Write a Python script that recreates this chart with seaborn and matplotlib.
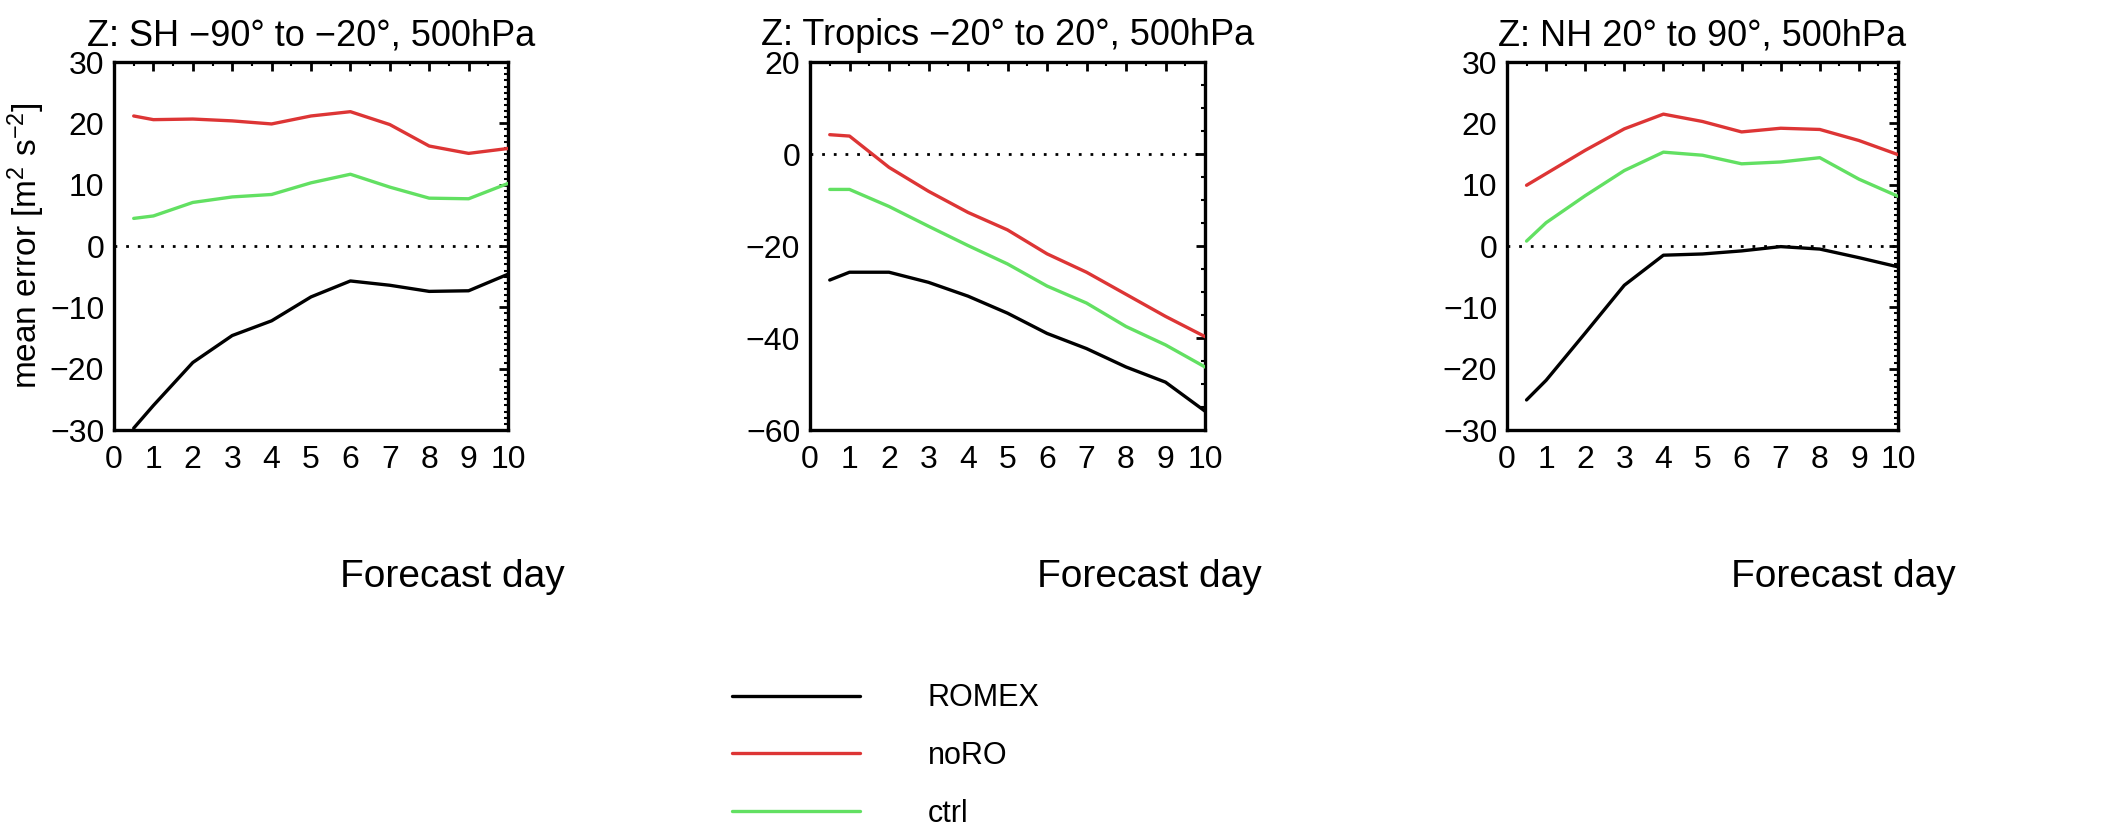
import numpy as np
import pandas as pd
import matplotlib
matplotlib.use("Agg")
import matplotlib.pyplot as plt
import seaborn as sns
from matplotlib.ticker import MultipleLocator
from matplotlib.lines import Line2D

# ---------------- data ----------------
days = [0.5, 1, 2, 3, 4, 5, 6, 7, 8, 9, 10]
experiments = ["ROMEX", "noRO", "ctrl"]
colors = ["#000000", "#dd3535", "#62e062"]

sh_romex = [-29.7, -26.0, -19.0, -14.6, -12.2, -8.3, -5.7, -6.4, -7.4, -7.3, -4.6]
sh_noro = [21.2, 20.6, 20.7, 20.4, 19.9, 21.2, 21.9, 19.8, 16.3, 15.1, 15.9]
sh_ctrl = [4.5, 4.9, 7.1, 8.0, 8.4, 10.3, 11.7, 9.6, 7.8, 7.7, 10.2]

tr_romex = [-27.4, -25.7, -25.7, -27.9, -30.9, -34.6, -39.0, -42.3, -46.3, -49.6, -55.9]
tr_noro = [4.2, 3.9, -2.9, -8.1, -12.7, -16.5, -21.7, -25.7, -30.5, -35.3, -39.7]
tr_ctrl = [-7.7, -7.7, -11.4, -15.7, -19.9, -23.9, -28.7, -32.4, -37.5, -41.5, -46.3]

nh_romex = [-25.1, -21.9, -14.2, -6.4, -1.5, -1.3, -0.8, -0.1, -0.5, -1.9, -3.4]
nh_noro = [9.9, 11.8, 15.6, 19.1, 21.5, 20.3, 18.6, 19.2, 19.0, 17.2, 14.9]
nh_ctrl = [0.8, 3.8, 8.2, 12.3, 15.3, 14.8, 13.4, 13.7, 14.4, 10.9, 8.1]

titles = ["Z: SH \u221290\u00b0 to \u221220\u00b0, 500hPa",
          "Z: Tropics \u221220\u00b0 to 20\u00b0, 500hPa",
          "Z: NH 20\u00b0 to 90\u00b0, 500hPa"]
ylims = [(-30, 30), (-60, 20), (-30, 30)]
ymajor = [10, 20, 10]
yminor = [1, 5, 1]
xlabel = "Forecast day"
ylabel = r"mean error [m$^{\mathrm{2}}$ s$^{\mathrm{-2}}$]"

panels = [(sh_romex, sh_noro, sh_ctrl),
          (tr_romex, tr_noro, tr_ctrl),
          (nh_romex, nh_noro, nh_ctrl)]

# ---------------- style ----------------
sns.set_style("white")
plt.rcParams["font.family"] = ["Liberation Sans", "DejaVu Sans"]
plt.rcParams["mathtext.fontset"] = "custom"
plt.rcParams["mathtext.rm"] = "Liberation Sans"
plt.rcParams["mathtext.it"] = "Liberation Sans:italic"
plt.rcParams["axes.unicode_minus"] = True
plt.rcParams["text.color"] = "black"
plt.rcParams["axes.labelcolor"] = "black"
plt.rcParams["xtick.color"] = "black"
plt.rcParams["ytick.color"] = "black"

fig = plt.figure(figsize=(21.26, 8.31), dpi=100)

axes_rects = [
    [114 / 2126, 401 / 831, 394 / 2126, 368 / 831],
    [810 / 2126, 401 / 831, 395 / 2126, 368 / 831],
    [1507 / 2126, 401 / 831, 391 / 2126, 368 / 831],
]

palette = dict(zip(experiments, colors))

for i, (rect, series) in enumerate(zip(axes_rects, panels)):
    ax = fig.add_axes(rect)
    df = pd.DataFrame({
        "day": days * 3,
        "value": list(series[0]) + list(series[1]) + list(series[2]),
        "experiment": [e for e in experiments for _ in days],
    })
    sns.lineplot(data=df, x="day", y="value", hue="experiment",
                 hue_order=experiments, palette=palette, linewidth=2.4,
                 ax=ax, legend=False, zorder=3)
    ax.axhline(0, color="black", linewidth=2.0, linestyle=(0, (1, 3.2)), zorder=2)

    ax.set_xlim(0, 10)
    ax.set_ylim(*ylims[i])
    ax.xaxis.set_major_locator(MultipleLocator(1))
    ax.xaxis.set_minor_locator(MultipleLocator(0.5))
    ax.yaxis.set_major_locator(MultipleLocator(ymajor[i]))
    ax.yaxis.set_minor_locator(MultipleLocator(yminor[i]))
    ax.tick_params(axis="both", which="both", direction="in",
                   top=True, right=True, colors="black")
    ax.tick_params(axis="both", which="major", length=6.5, width=2.0,
                   labelsize=23)
    ax.tick_params(axis="both", which="minor", length=3.2, width=1.5)
    ax.tick_params(axis="x", which="major", pad=11)
    ax.tick_params(axis="y", which="major", pad=7)
    for sp in ax.spines.values():
        sp.set_linewidth(2.4)
        sp.set_color("black")

    ax.set_title(titles[i], fontsize=26, pad=12, color="black")
    ax.set_xlabel(xlabel, fontsize=28)
    ax.xaxis.set_label_coords(0.86, -0.40)
    ax.xaxis.label.set_va("center")
    if i == 0:
        ax.set_ylabel(ylabel, fontsize=24)
        ax.yaxis.set_label_coords(-0.222, 0.5)
        ax.yaxis.label.set_va("center")
    else:
        ax.set_ylabel("")

handles = [Line2D([], [], color=c, linewidth=2.4) for c in colors]
fig.legend(handles, experiments, loc="center left",
           bbox_to_anchor=(732 / 2126, 1 - 756 / 831),
           frameon=False, fontsize=22, handlelength=4.2,
           handletextpad=2.2, labelspacing=0.9,
           borderpad=0, borderaxespad=0)

fig.savefig("out.png", dpi=100)
